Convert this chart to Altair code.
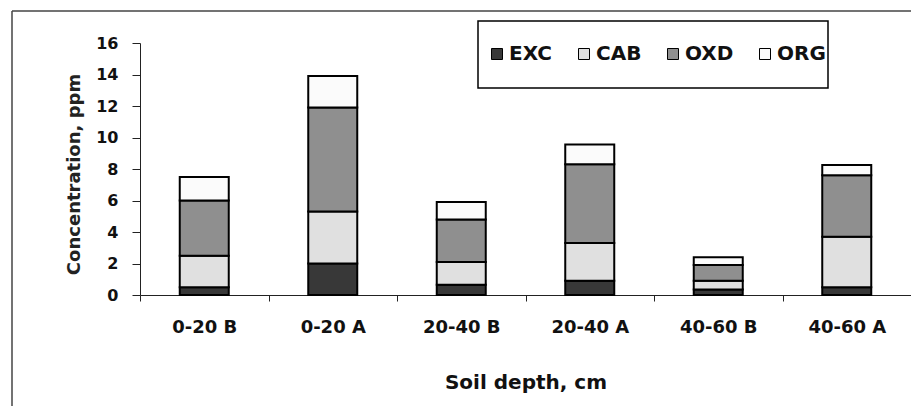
import altair as alt
import pandas as pd

# Soil depth classes (B / A horizons) and the four fractions, ppm
categories = ["0-20 B", "0-20 A", "20-40 B", "20-40 A", "40-60 B", "40-60 A"]
fractions = ["EXC", "CAB", "OXD", "ORG"]
exc = [0.5, 2.0, 0.65, 0.9, 0.35, 0.5]
cab = [2.0, 3.3, 1.45, 2.4, 0.55, 3.2]
oxd = [3.5, 6.6, 2.7, 5.0, 1.0, 3.9]
org = [1.5, 2.0, 1.1, 1.25, 0.5, 0.65]

fills = ["#383838", "#e0e0e0", "#8f8f8f", "#fbfbfb"]
FONT = "DejaVu Sans"

series = {"EXC": exc, "CAB": cab, "OXD": oxd, "ORG": org}
rows = []
for k, name in enumerate(fractions):
    for cat, v in zip(categories, series[name]):
        rows.append({"depth": cat, "fraction": name, "order": k, "value": v})
df = pd.DataFrame(rows)

bars = alt.Chart(df).mark_bar(size=49, stroke="black", strokeWidth=2).encode(
    x=alt.X(
        "depth:N",
        sort=categories,
        scale=alt.Scale(paddingInner=0, paddingOuter=0),
        axis=alt.Axis(
            title="Soil depth, cm",
            labelAngle=0,
            tickBand="extent",
            tickSize=6,
            labelPadding=17,
            labelFont=FONT,
            labelFontSize=18,
            labelFontWeight="bold",
            labelColor="#111",
            titleFont=FONT,
            titleFontSize=20,
            titleFontWeight="bold",
            titleColor="#111",
            titleY=77,
            domainColor="#222",
            tickColor="#222",
        ),
    ),
    y=alt.Y(
        "value:Q",
        stack="zero",
        scale=alt.Scale(domain=[0, 16], nice=False),
        axis=alt.Axis(
            title="Concentration, ppm",
            values=list(range(0, 17, 2)),
            grid=False,
            tickSize=8,
            labelPadding=14,
            labelFont=FONT,
            labelFontSize=16,
            labelFontWeight="bold",
            labelColor="#111",
            titleFont=FONT,
            titleFontSize=18,
            titleFontWeight="bold",
            titleColor="#222",
            titleX=-66,
            titleY=131,
            titleBaseline="middle",
            titleAlign="center",
            domainColor="#222",
            tickColor="#222",
        ),
    ),
    color=alt.Color(
        "fraction:N",
        sort=fractions,
        scale=alt.Scale(domain=fractions, range=fills),
        legend=alt.Legend(
            title=None,
            orient="none",
            direction="horizontal",
            legendX=347,
            legendY=1,
            symbolType="square",
            symbolSize=121,
            symbolStrokeColor="black",
            symbolStrokeWidth=1,
            labelFont=FONT,
            labelFontSize=20,
            labelFontWeight="bold",
            labelColor="#111",
            labelOffset=2,
            columnPadding=21,
            padding=0,
        ),
    ),
    order=alt.Order("order:Q", sort="ascending"),
)

one = alt.Data(values=[{}])

# legend frame
legend_box = alt.Chart(one).mark_rect(fill="white", stroke="black", strokeWidth=1.5).encode(
    x=alt.value(338), x2=alt.value(688), y=alt.value(-22), y2=alt.value(45)
)

# outer chart-area border (left and top edges)
frame_left = alt.Chart(one).mark_rule(color="#444", strokeWidth=1.5).encode(
    x=alt.value(-128), y=alt.value(-32), y2=alt.value(363)
)
frame_top = alt.Chart(one).mark_rule(color="#444", strokeWidth=1.5).encode(
    x=alt.value(-128), x2=alt.value(771), y=alt.value(-32)
)

chart = alt.layer(frame_left, frame_top, legend_box, bars).properties(
    width=771,
    height=252,
    autosize=alt.AutoSizeParams(type="none"),
    padding={"left": 140, "top": 43, "right": 0, "bottom": 111},
    background="white",
).configure_view(stroke=None)

chart.save("out.html", embed_options={"renderer": "svg", "actions": False})
